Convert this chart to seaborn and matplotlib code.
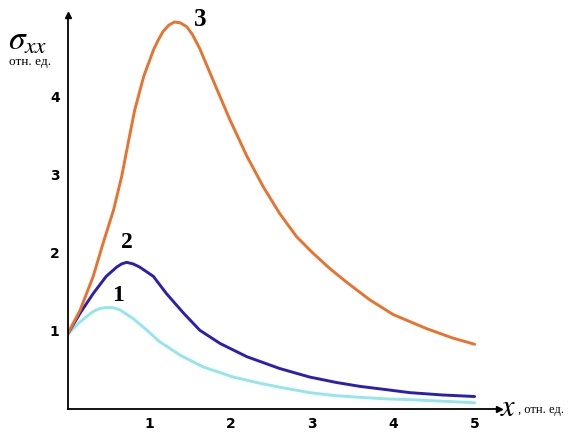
import numpy as np
import pandas as pd
import seaborn as sns
import matplotlib.pyplot as plt

# curve values (x, sigma_xx in relative units)
x1 = [0.0, 0.15, 0.31, 0.4, 0.47, 0.55, 0.64, 0.8, 0.97, 1.13, 1.38, 1.66, 2.03, 2.36, 2.6, 2.97, 3.3, 3.59, 3.9, 4.2,
      4.6, 5.0]
y1 = [0.96, 1.12, 1.25, 1.29, 1.3, 1.3, 1.27, 1.16, 1.01, 0.86, 0.69, 0.54, 0.41, 0.33, 0.28, 0.21, 0.17, 0.15, 0.13,
      0.12, 0.1, 0.08]

x2 = [0.0, 0.15, 0.31, 0.47, 0.6, 0.66, 0.72, 0.8, 0.88, 1.05, 1.21, 1.42, 1.62, 1.87, 2.2, 2.36, 2.6, 2.97, 3.3, 3.59,
      3.9, 4.2, 4.6, 5.0]
y2 = [0.97, 1.23, 1.48, 1.7, 1.82, 1.86, 1.88, 1.86, 1.82, 1.7, 1.48, 1.23, 1.01, 0.84, 0.67, 0.61, 0.52, 0.41, 0.34,
      0.29, 0.25, 0.21, 0.18, 0.16]

x3 = [0.0, 0.15, 0.31, 0.43, 0.56, 0.66, 0.74, 0.82, 0.93, 1.05, 1.11, 1.17, 1.24, 1.31, 1.38, 1.46, 1.53, 1.62, 1.81,
      1.99, 2.2, 2.4, 2.6, 2.81, 3.01, 3.22, 3.42, 3.71, 4.0, 4.41, 4.73, 5.0]
y3 = [0.97, 1.27, 1.7, 2.12, 2.55, 2.98, 3.41, 3.83, 4.26, 4.6, 4.73, 4.84, 4.92, 4.96, 4.95, 4.9, 4.8, 4.62, 4.15,
      3.71, 3.24, 2.85, 2.51, 2.21, 2.0, 1.8, 1.63, 1.4, 1.21, 1.03, 0.91, 0.83]

colors = {"1": "#93E6EA", "2": "#2A1FB0", "3": "#E8732F"}

df = pd.concat([
    pd.DataFrame({"x": x1, "y": y1, "curve": "1"}),
    pd.DataFrame({"x": x2, "y": y2, "curve": "2"}),
    pd.DataFrame({"x": x3, "y": y3, "curve": "3"}),
])

sns.set_style("white")
plt.rcParams["mathtext.fontset"] = "stix"
plt.rcParams["text.color"] = "black"
plt.rcParams["xtick.color"] = "black"
plt.rcParams["ytick.color"] = "black"

fig = plt.figure(figsize=(5.72, 4.34), dpi=100)
ax = fig.add_axes([68 / 572, 25 / 434, 431 / 572, 394 / 434])

sns.lineplot(data=df, x="x", y="y", hue="curve", palette=colors,
             linewidth=2.1, legend=False, ax=ax, sort=False)

ax.set_xlim(0, 5.3)
ax.set_ylim(0, 5.05)
ax.set_xlabel("")
ax.set_ylabel("")

for s in ["top", "right"]:
    ax.spines[s].set_visible(False)
for s in ["left", "bottom"]:
    ax.spines[s].set_color("black")
    ax.spines[s].set_linewidth(1.3)

# arrow heads on the axes
ax.plot(1, 0, ">k", markersize=5, transform=ax.get_yaxis_transform(), clip_on=False)
ax.plot(0, 1, "^k", markersize=5, transform=ax.get_xaxis_transform(), clip_on=False)

ax.set_xticks([1, 2, 3, 4, 5])
ax.set_yticks([1, 2, 3, 4])
ax.tick_params(axis="both", direction="inout", length=4, width=1,
               labelsize=10, pad=4, colors="black")
for lab in ax.get_xticklabels() + ax.get_yticklabels():
    lab.set_fontweight("bold")

# curve numbers
ax.text(1.62, 4.99, "3", fontsize=18, fontweight="bold", family="Liberation Serif",
        ha="center", va="center")
ax.text(0.72, 2.13, "2", fontsize=17, fontweight="bold", family="Liberation Serif",
        ha="center", va="center")
ax.text(0.61, 1.46, "1", fontsize=17, fontweight="bold", family="Liberation Serif",
        ha="center", va="center")

# axis titles
fig.text(8 / 572, 1 - 40 / 434, r"$\sigma_{xx}$", fontsize=24, ha="left", va="center")
fig.text(9 / 572, 1 - 62 / 434, "отн. ед.", fontsize=9.5, family="Liberation Serif",
         ha="left", va="center")
fig.text(500 / 572, 1 - 408 / 434, r"$x$", fontsize=22, ha="left", va="center")
fig.text(518 / 572, 1 - 410 / 434, ", отн. ед.", fontsize=9, family="Liberation Serif",
         ha="left", va="center")

fig.savefig("out.png", dpi=100)
